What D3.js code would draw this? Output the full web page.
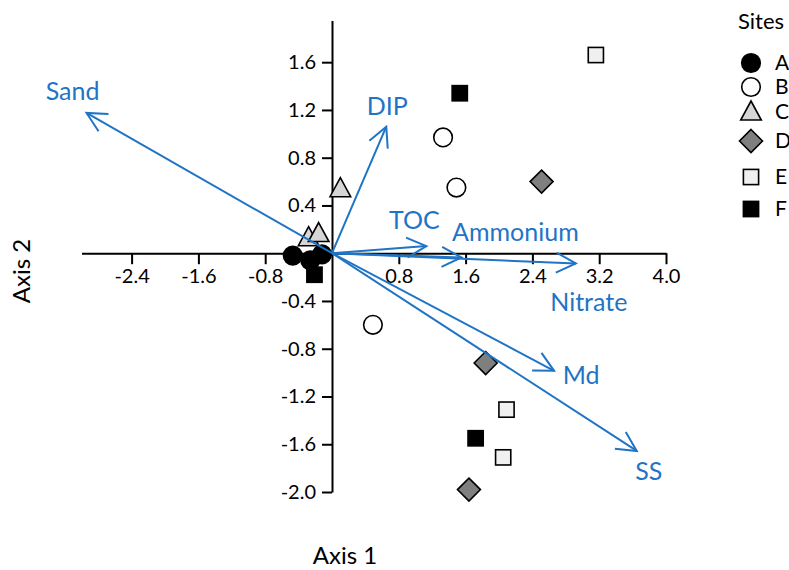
<!DOCTYPE html>
<html>
<head>
<meta charset="utf-8">
<script src="https://cdn.jsdelivr.net/npm/d3@7"></script>
<style>
  body { margin: 0; background: #fff; }
  text { font-family: Lato, "Open Sans", sans-serif; }
</style>
</head>
<body>
<script>
var width = 789,
    height = 570;

// sites in the legend
var sites = ["A", "B", "C", "D", "E", "F"];

// site scores (axis 1, axis 2)
var pointSite = ["A", "A", "A",
                 "B", "B", "B",
                 "C", "C", "C",
                 "D", "D", "D",
                 "E", "E", "E",
                 "F", "F", "F"];
var axis1 = [-0.47, -0.26, -0.12,
              1.33,  1.49,  0.49,
              0.10, -0.28, -0.16,
              2.51,  1.84,  1.64,
              3.16,  2.09,  2.05,
              1.53,  1.72, -0.21];
var axis2 = [-0.02, -0.06, -0.01,
              0.97,  0.55, -0.60,
              0.54,  0.13,  0.165,
              0.60, -0.92, -1.98,
              1.66, -1.31, -1.71,
              1.34, -1.55, -0.18];

// environmental vectors
var vectorNames = ["Sand", "DIP", "TOC", "Ammonium", "Nitrate", "Md", "SS"];
var vectorX = [-2.94, 0.65, 1.13, 1.55, 2.92, 2.66, 3.65];
var vectorY = [1.175, 1.06, 0.06, -0.036, -0.086, -0.985, -1.656];

var xTicks = [-2.4, -1.6, -0.8, 0.8, 1.6, 2.4, 3.2, 4.0];
var yTicks = [1.6, 1.2, 0.8, 0.4, -0.4, -0.8, -1.2, -1.6, -2.0];

var blue = "#1f74c6";

// label offsets from the arrow tips, in pixels
var labelOffset = {
    "Sand": [-14, -22],
    "DIP": [1, -20],
    "TOC": [-12, -26],
    "Ammonium": [54, -25],
    "Nitrate": [13, 39],
    "Md": [27, 4],
    "SS": [12, 20]
};

var symbolStyle = {
    "A": { shape: "circle", fill: "#000" },
    "B": { shape: "circle", fill: "#fff" },
    "C": { shape: "triangle", fill: "#d6d6d6" },
    "D": { shape: "diamond", fill: "#7f7f7f" },
    "E": { shape: "square", fill: "#f0f0f0" },
    "F": { shape: "square", fill: "#000" }
};

var x = d3.scaleLinear().domain([-3, 4]).range([81.5, 666]);
var y = d3.scaleLinear().domain([-2, 1.95]).range([492, 20.4]);

var svg = d3.select("body").append("svg")
    .attr("width", width)
    .attr("height", height);

var fmt = function(d) { return d.toFixed(1); };

// axes
var xAxis = svg.append("g")
    .attr("transform", "translate(0," + y(0) + ")")
    .call(d3.axisBottom(x).tickValues(xTicks).tickFormat(fmt)
        .tickSize(11).tickSizeOuter(0).tickPadding(5));

var yAxis = svg.append("g")
    .attr("transform", "translate(" + x(0) + ",0)")
    .call(d3.axisLeft(y).tickValues(yTicks).tickFormat(fmt)
        .tickSize(10).tickSizeOuter(0).tickPadding(6));

[xAxis, yAxis].forEach(function(g) {
    g.select(".domain").attr("stroke", "#000").attr("stroke-width", 2);
    g.selectAll(".tick line").attr("stroke", "#000").attr("stroke-width", 2);
    g.selectAll(".tick text")
        .attr("fill", "#000")
        .style("font-family", "Lato, sans-serif")
        .style("font-size", "20px");
});

svg.append("text")
    .attr("x", 345).attr("y", 564)
    .attr("text-anchor", "middle")
    .style("font-size", "24px")
    .text("Axis 1");

svg.append("text")
    .attr("transform", "translate(30,271) rotate(-90)")
    .attr("text-anchor", "middle")
    .style("font-size", "24px")
    .text("Axis 2");

function drawSymbol(sel, site, cx, cy) {
    var st = symbolStyle[site];
    var s;
    if (st.shape === "circle") {
        s = sel.append("circle").attr("cx", cx).attr("cy", cy).attr("r", 9.3);
    } else if (st.shape === "square") {
        s = sel.append("rect").attr("x", cx - 7.6).attr("y", cy - 7.6)
            .attr("width", 15.2).attr("height", 15.2);
    } else if (st.shape === "triangle") {
        s = sel.append("path").attr("d",
            "M" + cx + "," + (cy - 11) +
            "L" + (cx + 10.3) + "," + (cy + 8) +
            "L" + (cx - 10.3) + "," + (cy + 8) + "Z");
    } else {
        s = sel.append("path").attr("d",
            "M" + cx + "," + (cy - 11.5) +
            "L" + (cx + 11.5) + "," + cy +
            "L" + cx + "," + (cy + 11.5) +
            "L" + (cx - 11.5) + "," + cy + "Z");
    }
    s.attr("fill", st.fill).attr("stroke", "#000").attr("stroke-width", 1.6);
}

// site points
var pts = svg.append("g");
axis1.forEach(function(v, i) {
    drawSymbol(pts, pointSite[i], x(v), y(axis2[i]));
});

// vectors
var vec = svg.append("g");
vectorNames.forEach(function(name, i) {
    var x0 = x(0), y0 = y(0),
        x1 = x(vectorX[i]), y1 = y(vectorY[i]);
    var a = Math.atan2(y0 - y1, x0 - x1),
        len = 22, spread = 27 * Math.PI / 180;
    vec.append("line")
        .attr("x1", x0).attr("y1", y0)
        .attr("x2", x1).attr("y2", y1)
        .attr("stroke", blue).attr("stroke-width", 2);
    vec.append("path")
        .attr("d", "M" + (x1 + len * Math.cos(a + spread)) + "," + (y1 + len * Math.sin(a + spread)) +
                   "L" + x1 + "," + y1 +
                   "L" + (x1 + len * Math.cos(a - spread)) + "," + (y1 + len * Math.sin(a - spread)))
        .attr("fill", "none").attr("stroke", blue).attr("stroke-width", 2);
    var off = labelOffset[name];
    vec.append("text")
        .attr("x", x1 + off[0]).attr("y", y1 + off[1])
        .attr("dy", "0.35em")
        .attr("text-anchor", "middle")
        .attr("fill", blue)
        .style("font-size", "25px")
        .text(name);
});

// legend
var legend = svg.append("g");
legend.append("text")
    .attr("x", 738).attr("y", 21).attr("dy", "0.35em")
    .style("font-size", "22px")
    .text("Sites");
var legendY = [63, 87, 112, 141, 177, 209];
sites.forEach(function(s, i) {
    drawSymbol(legend, s, 751, legendY[i]);
    legend.append("text")
        .attr("x", 775).attr("y", legendY[i]).attr("dy", "0.35em")
        .style("font-size", "21px")
        .text(s);
});
</script>
</body>
</html>
